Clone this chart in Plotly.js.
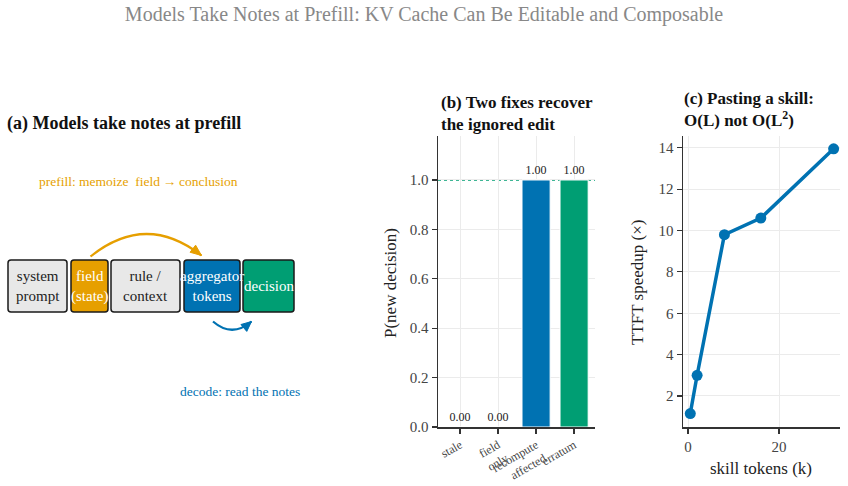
<!DOCTYPE html>
<html>
<head>
<meta charset="utf-8">
<script src="https://cdn.plot.ly/plotly-3.0.1.min.js"></script>
<style>
  html, body { margin: 0; padding: 0; background: #fff; }
  #chart { width: 848px; height: 486px; }
</style>
</head>
<body>
<div id="chart"></div>
<script>
// Panel (b): probability of the new decision for each fix
const fixNames = ['stale', 'field<br>only', 'recompute<br>affected', 'erratum'];
const fixProb = [0.00, 0.00, 1.00, 1.00];

// Panel (c): time-to-first-token speedup vs. skill length
const skillTokensK = [0.5, 2, 8, 16, 32];
const ttftSpeedup = [1.15, 3.0, 9.8, 10.6, 13.95];

// Panel (a): token segments of the prompt
const segmentLabels = ['system<br>prompt', 'field<br>(state)', 'rule /<br>context', 'aggregator<br>tokens', 'decision'];

const W = 848, H = 486;
const FONT = "'Liberation Serif', 'Times New Roman', serif";
const BLUE = '#0072B2', GREEN = '#009E73', ORANGE = '#E69F00', LIGHT = '#e8e8e8';

// pixel -> paper helpers
const px = x => x / W;
const py = y => 1 - y / H;
const pt = (x, y) => `${px(x)},${py(y)}`;

function roundRect(x0, y0, x1, y1, r) {
  return 'M' + pt(x0 + r, y0) + ' L' + pt(x1 - r, y0) + ' Q' + pt(x1, y0) + ' ' + pt(x1, y0 + r) +
    ' L' + pt(x1, y1 - r) + ' Q' + pt(x1, y1) + ' ' + pt(x1 - r, y1) +
    ' L' + pt(x0 + r, y1) + ' Q' + pt(x0, y1) + ' ' + pt(x0, y1 - r) +
    ' L' + pt(x0, y0 + r) + ' Q' + pt(x0, y0) + ' ' + pt(x0 + r, y0) + ' Z';
}

function curvedArrow(p0, c, p2, color, headLen, headW) {
  const out = [];
  out.push({
    type: 'path', xref: 'paper', yref: 'paper',
    path: 'M' + pt(p0[0], p0[1]) + ' Q' + pt(c[0], c[1]) + ' ' + pt(p2[0], p2[1]),
    line: { color: color, width: 2.2 }
  });
  // arrow head along the end tangent
  let dx = p2[0] - c[0], dy = p2[1] - c[1];
  const L = Math.hypot(dx, dy); dx /= L; dy /= L;
  const bx = p2[0] - dx * headLen, by = p2[1] - dy * headLen;
  const nx = -dy, ny = dx;
  out.push({
    type: 'path', xref: 'paper', yref: 'paper',
    path: 'M' + pt(p2[0], p2[1]) + ' L' + pt(bx + nx * headW / 2, by + ny * headW / 2) +
      ' L' + pt(bx - nx * headW / 2, by - ny * headW / 2) + ' Z',
    fillcolor: color, line: { color: color, width: 1 }
  });
  return out;
}

const boxes = [
  { x0: 8, x1: 67, fill: LIGHT, txt: '#222' },
  { x0: 71, x1: 108, fill: ORANGE, txt: '#fff' },
  { x0: 111, x1: 180, fill: LIGHT, txt: '#222' },
  { x0: 184, x1: 240, fill: BLUE, txt: '#fff' },
  { x0: 243, x1: 294, fill: GREEN, txt: '#fff' }
];
const boxTop = 260, boxBottom = 312;

const shapes = [];
const annotations = [];

boxes.forEach((b, i) => {
  shapes.push({
    type: 'path', xref: 'paper', yref: 'paper',
    path: roundRect(b.x0, boxTop, b.x1, boxBottom, 3),
    fillcolor: b.fill, line: { color: '#1a1a1a', width: 1.5 }
  });
  annotations.push({
    xref: 'paper', yref: 'paper', x: px((b.x0 + b.x1) / 2), y: py((boxTop + boxBottom) / 2),
    text: segmentLabels[i], showarrow: false, xanchor: 'center', yanchor: 'middle',
    font: { family: FONT, size: 15, color: b.txt }
  });
});

shapes.push(...curvedArrow([90.5, 256.5], [146, 212], [201.5, 255.5], ORANGE, 11, 9));
shapes.push(...curvedArrow([213, 321.5], [232, 338], [251.5, 321.5], BLUE, 10, 9));

// reference line at P = 1
shapes.push({
  type: 'line', xref: 'x domain', yref: 'y', x0: 0, x1: 1, y0: 1, y1: 1,
  line: { color: GREEN, width: 1.4, dash: 'dot' }, layer: 'below'
});

annotations.push(
  { xref: 'paper', yref: 'paper', x: px(37), y: py(181), xanchor: 'left', yanchor: 'middle', showarrow: false,
    text: 'prefill: memoize  field\u2009\u2192\u2009conclusion', font: { family: FONT, size: 13.5, color: ORANGE } },
  { xref: 'paper', yref: 'paper', x: px(178), y: py(391), xanchor: 'left', yanchor: 'middle', showarrow: false,
    text: 'decode: read the notes', font: { family: FONT, size: 13.5, color: BLUE } },
  { xref: 'paper', yref: 'paper', x: px(5), y: py(123), xanchor: 'left', yanchor: 'middle', showarrow: false,
    text: '<b>(a) Models take notes at prefill</b>', font: { family: FONT, size: 18, color: '#111' } },
  { xref: 'paper', yref: 'paper', x: px(439), y: py(113), xanchor: 'left', yanchor: 'middle', showarrow: false, align: 'left',
    text: '<b>(b) Two fixes recover<br>the ignored edit</b>', font: { family: FONT, size: 17, color: '#111' } },
  { xref: 'paper', yref: 'paper', x: px(682), y: py(110), xanchor: 'left', yanchor: 'middle', showarrow: false, align: 'left',
    text: '<b>(c) Pasting a skill:<br>O(L) not O(L<sup>2</sup>)</b>', font: { family: FONT, size: 17, color: '#111' } },
  { xref: 'paper', yref: 'paper', x: px(390), y: py(283), xanchor: 'center', yanchor: 'middle', showarrow: false, textangle: -90,
    text: 'P(new decision)', font: { family: FONT, size: 17, color: '#222' } },
  { xref: 'paper', yref: 'paper', x: px(637), y: py(283), xanchor: 'center', yanchor: 'middle', showarrow: false, textangle: -90,
    text: 'TTFT speedup (\u00d7)', font: { family: FONT, size: 17, color: '#222' } },
  { xref: 'paper', yref: 'paper', x: px(761), y: py(468), xanchor: 'center', yanchor: 'middle', showarrow: false,
    text: 'skill tokens (k)', font: { family: FONT, size: 17, color: '#222' } }
);

const axisCommon = {
  showline: true, linecolor: '#333', linewidth: 1.5,
  ticks: 'outside', ticklen: 5, tickwidth: 1.2, tickcolor: '#333',
  showgrid: true, gridcolor: '#ebebeb', gridwidth: 1,
  zeroline: false, tickfont: { family: FONT, size: 15, color: '#444' }
};

const traces = [
  {
    type: 'bar', x: fixNames, y: fixProb, xaxis: 'x', yaxis: 'y',
    marker: { color: ['#999999', '#999999', BLUE, GREEN], line: { color: '#ffffff', width: 1 } },
    width: 0.74,
    text: fixProb.map(v => v.toFixed(2)), textposition: 'outside', cliponaxis: false,
    textfont: { family: FONT, size: 12, color: '#222' },
    hoverinfo: 'x+y'
  },
  {
    type: 'scatter', mode: 'lines+markers', x: skillTokensK, y: ttftSpeedup, xaxis: 'x2', yaxis: 'y2',
    line: { color: BLUE, width: 3.5 }, marker: { color: BLUE, size: 11 }, cliponaxis: false
  }
];

const layout = {
  width: W, height: H,
  margin: { l: 0, r: 0, t: 0, b: 0 },
  paper_bgcolor: '#fff', plot_bgcolor: 'rgba(0,0,0,0)',
  showlegend: false,
  title: {
    text: 'Models Take Notes at Prefill: KV Cache Can Be Editable and Composable',
    x: 0.5, xanchor: 'center', y: 1 - 14 / H, yref: 'container', yanchor: 'middle',
    font: { family: FONT, size: 20, color: '#888' }
  },
  xaxis: Object.assign({}, axisCommon, {
    domain: [px(438), px(595)], anchor: 'y', range: [-0.58, 3.55], type: 'category',
    tickangle: -30, tickfont: { family: FONT, size: 12, color: '#444' }, layer: 'below traces'
  }),
  yaxis: Object.assign({}, axisCommon, {
    domain: [py(427), py(136)], anchor: 'x', range: [0, 1.178],
    tickvals: [0, 0.2, 0.4, 0.6, 0.8, 1.0], ticktext: ['0.0', '0.2', '0.4', '0.6', '0.8', '1.0']
  }),
  xaxis2: Object.assign({}, axisCommon, {
    domain: [px(683), px(840)], anchor: 'y2', range: [-1.1, 33.4], tickvals: [0, 20]
  }),
  yaxis2: Object.assign({}, axisCommon, {
    domain: [py(427), py(136)], anchor: 'x2', range: [0.5, 14.57], tickvals: [2, 4, 6, 8, 10, 12, 14]
  }),
  shapes: shapes,
  annotations: annotations,
  font: { family: FONT }
};

Plotly.newPlot('chart', traces, layout, { displayModeBar: false, staticPlot: true });
</script>
</body>
</html>
